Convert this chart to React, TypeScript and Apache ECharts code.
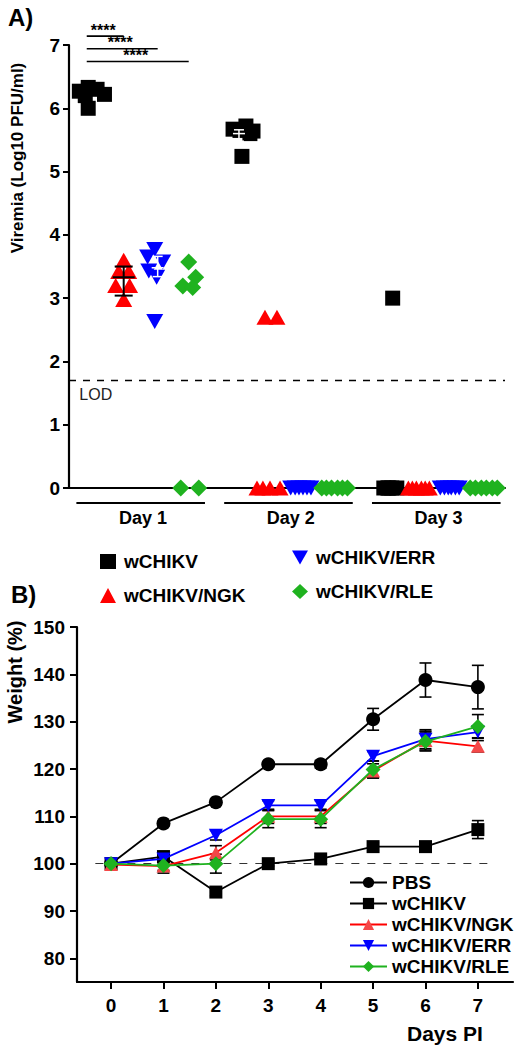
import React, { useEffect, useRef } from "react";
import * as echarts from "echarts";

const FONT = "'Liberation Sans', Arial, Helvetica, sans-serif";

// ---------- Panel A: viremia ----------
const days = [1, 2, 3];
const groupsA = ["wCHIKV", "wCHIKV/NGK", "wCHIKV/ERR", "wCHIKV/RLE"];
const colorsA = ["#000000", "#ff0000", "#0000ff", "#1fb21f"];
const groupOffset = [-0.35, -0.13, 0.1, 0.31];

// values[day][mouse]
const wChikvV = [
  [6.27, 6.33, 6.3, 6.22, 6.0, 6.2],
  [5.67, 5.72, 5.64, 5.24, 5.65, 5.6],
  [3.0, 0, 0, 0, 0, 0],
];
const wChikvJ = [
  [-0.08, -0.02, 0.04, 0.09, -0.02, -0.04],
  [-0.04, 0.047, 0.095, 0.02, 0.007, 0.074],
  [0.04, -0.02, 0.007, 0.034, 0.068, 0.014],
];
const ngkV = [
  [3.6, 3.42, 3.42, 3.2, 3.2, 2.98],
  [2.7, 2.7, 0, 0, 0, 0],
  [0, 0, 0, 0, 0, 0],
];
const ngkJ = [
  [0, -0.034, 0.034, -0.054, 0.04, 0],
  [-0.044, 0.037, -0.098, -0.058, -0.01, 0.058],
  [-0.074, -0.047, -0.02, 0.014, 0.04, 0.068],
];
const errV = [
  [3.77, 3.65, 3.57, 3.43, 3.33, 2.63],
  [0, 0, 0, 0, 0, 0],
  [0, 0, 0, 0, 0, 0],
];
const errJ = [
  [-0.02, -0.068, 0.034, -0.06, -0.007, -0.02],
  [-0.1, -0.07, -0.044, -0.017, 0.01, 0.037],
  [-0.088, -0.06, -0.034, -0.014, 0.014, 0.04],
];
const rleV = [
  [3.57, 3.33, 3.19, 3.17, 0, 0],
  [0, 0, 0, 0, 0, 0],
  [0, 0, 0, 0, 0, 0],
];
const rleJ = [
  [0, 0.047, -0.04, 0.027, -0.054, 0.068],
  [-0.1, -0.068, -0.034, 0.007, 0.04, 0.074],
  [-0.095, -0.06, -0.02, 0.014, 0.054, 0.088],
];
const valuesA = [wChikvV, ngkV, errV, rleV];
const jitterA = [wChikvJ, ngkJ, errJ, rleJ];

// mean +/- SD bars drawn in panel A: [groupIndex, day, mean, low, high]
const meanBarsBlack = [[1, 1, 3.33, 3.04, 3.5]];
const meanBarsWhite = [
  [2, 1, 3.48, 3.34, 3.66],
  [0, 2, 5.6, 5.48, 5.66],
];
const LOD = 1.7;
const sigLevels = [7.14, 6.94, 6.74];
const sigText = "****";

// ---------- Panel B: weight ----------
const daysB = [0, 1, 2, 3, 4, 5, 6, 7];
const pbsW = [100, 108.5, 113, 121, 121, 130.5, 138.8, 137.3];
const pbsE = [0.5, 0.6, 0.6, 0.5, 0.8, 2.3, 3.6, 4.6];
const wChikvW = [100, 101.5, 94, 100, 101, 103.6, 103.6, 107.2];
const wChikvE = [0.5, 0.8, 0.8, 0.5, 0.5, 0.8, 0.8, 1.9];
const ngkW = [99.8, 99.5, 102.3, 110, 110, 119.6, 126, 124.8];
const ngkE = [0.5, 1.5, 1.5, 1.5, 1.5, 1.5, 2, 1.2];
const errW = [100, 101, 106, 112.3, 112.3, 122.7, 126.3, 127.8];
const errE = [0.5, 1, 1, 1, 1, 1, 2, 1.2];
const rleW = [100, 99.6, 100, 109.4, 109.4, 119.9, 125.8, 129];
const rleE = [0.5, 1, 2, 1.8, 1.8, 1.8, 2, 2.5];
const groupsB = ["PBS", "wCHIKV", "wCHIKV/NGK", "wCHIKV/ERR", "wCHIKV/RLE"];
const weightsB = [pbsW, wChikvW, ngkW, errW, rleW];
const errorsB = [pbsE, wChikvE, ngkE, errE, rleE];
const lineColorsB = ["#000000", "#000000", "#ff0000", "#0000ff", "#1fb21f"];
const markColorsB = ["#000000", "#000000", "#f44848", "#0000ff", "#1fb21f"];
const symbolsB = ["circle", "rect", "triangle", "triangle", "diamond"];
const rotB = [0, 0, 0, 180, 0];
const sizesB: any[] = [14, 13, [14, 13], [14, 13], 15];
const yTicksB = [80, 90, 100, 110, 120, 130, 140, 150];

const bold = { fontFamily: FONT, fontWeight: "bold", color: "#000" };
const DOWN_TRI = "path://M0,0L16,0L8,14Z";

function errorRender(color: string, lw: number, cap: number, meanW: number) {
  return (params: any, api: any) => {
    const x = api.value(0);
    const m = api.value(1);
    const lo = api.value(2);
    const hi = api.value(3);
    const pm = api.coord([x, m]);
    const pl = api.coord([x, lo]);
    const ph = api.coord([x, hi]);
    const st = { stroke: color, lineWidth: lw };
    const children: any[] = [
      { type: "line", shape: { x1: pl[0], y1: pl[1], x2: ph[0], y2: ph[1] }, style: st },
      { type: "line", shape: { x1: pl[0] - cap, y1: pl[1], x2: pl[0] + cap, y2: pl[1] }, style: st },
      { type: "line", shape: { x1: ph[0] - cap, y1: ph[1], x2: ph[0] + cap, y2: ph[1] }, style: st },
    ];
    if (meanW > 0) {
      children.push({
        type: "line",
        shape: { x1: pm[0] - meanW, y1: pm[1], x2: pm[0] + meanW, y2: pm[1] },
        style: st,
      });
    }
    return { type: "group", children };
  };
}

export default function App() {
  const ref = useRef<HTMLDivElement>(null);
  useEffect(() => {
    if (!ref.current) return;
    const chart = echarts.init(ref.current, null, { renderer: "svg" });

    const scatterSeries = groupsA.map((g, gi) => {
      const data: number[][] = [];
      days.forEach((d, di) => {
        valuesA[gi][di].forEach((v, k) => {
          data.push([d + groupOffset[gi] + jitterA[gi][di][k], v]);
        });
      });
      return {
        name: g,
        type: "scatter",
        xAxisIndex: 0,
        yAxisIndex: 0,
        symbol: gi === 0 ? "rect" : gi === 3 ? "diamond" : "triangle",
        symbolRotate: gi === 2 ? 180 : 0,
        symbolSize: gi === 0 ? 15 : gi === 3 ? 17 : [17, 15],
        itemStyle: { color: colorsA[gi], opacity: 1 },
        data,
        z: 3,
        markLine:
          gi === 0
            ? {
                silent: true,
                symbol: "none",
                label: { show: false },
                lineStyle: { color: "#000", type: [7, 7], width: 1.3 },
                data: [{ yAxis: LOD }],
              }
            : undefined,
      };
    });

    const toBar = (b: number[]) => [days[b[1] - 1] + groupOffset[b[0]], b[2], b[3], b[4]];

    const lineSeries = groupsB.map((g, gi) => ({
      name: "B:" + g,
      type: "line",
      xAxisIndex: 1,
      yAxisIndex: 1,
      symbol: symbolsB[gi],
      symbolRotate: rotB[gi],
      symbolSize: sizesB[gi],
      showSymbol: true,
      lineStyle: { color: lineColorsB[gi], width: 1.8 },
      itemStyle: { color: markColorsB[gi], opacity: 1 },
      data: daysB.map((d, i) => [d, weightsB[gi][i]]),
      z: 4 + gi,
      markLine:
        gi === 0
          ? {
              silent: true,
              symbol: "none",
              label: { show: false },
              lineStyle: { color: "#333", type: [8, 8], width: 1.1 },
              data: [[{ coord: [-0.3, 100] }, { coord: [7.3, 100] }]],
            }
          : undefined,
    }));

    const errDataB: number[][] = [];
    groupsB.forEach((g, gi) => {
      daysB.forEach((d, i) => {
        const v = weightsB[gi][i];
        const e = errorsB[gi][i];
        errDataB.push([d, v, v - e, v + e]);
      });
    });

    const legendA = (names: string[], left: number, top: number) => ({
      data: names.map((n) => (n === "wCHIKV/ERR" ? { name: n, icon: DOWN_TRI } : { name: n })),
      orient: "vertical",
      left,
      top,
      itemWidth: 16,
      itemHeight: 15,
      itemGap: 15,
      selectedMode: false,
      textStyle: { fontSize: 19, padding: [0, 0, 0, 3], ...bold },
    });

    const option: any = {
      animation: false,
      backgroundColor: "#fff",
      textStyle: { fontFamily: FONT },
      grid: [
        { left: 69, top: 45, width: 436, height: 443 },
        { left: 77, top: 627, width: 436, height: 355 },
      ],
      xAxis: [
        {
          type: "value",
          gridIndex: 0,
          min: 0.5,
          max: 3.45,
          splitLine: { show: false },
          axisLine: { lineStyle: { color: "#000", width: 2.2 } },
          axisTick: { show: false },
          axisLabel: {
            customValues: days,
            formatter: (v: number) => "Day " + v,
            margin: 21,
            fontSize: 18,
            ...bold,
          },
        },
        {
          type: "value",
          gridIndex: 1,
          min: -0.65,
          max: 7.67,
          splitLine: { show: false },
          axisLine: { onZero: false, lineStyle: { color: "#000", width: 2.2 } },
          axisTick: { customValues: daysB, length: 7, lineStyle: { color: "#000", width: 2 } },
          axisLabel: { customValues: daysB, margin: 14, fontSize: 19, ...bold },
        },
      ],
      yAxis: [
        {
          type: "value",
          gridIndex: 0,
          min: 0,
          max: 7,
          interval: 1,
          splitLine: { show: false },
          axisLine: { onZero: false, lineStyle: { color: "#000", width: 2.2 } },
          axisTick: { length: 6, lineStyle: { color: "#000", width: 2 } },
          axisLabel: { margin: 9, fontSize: 19, ...bold },
        },
        {
          type: "value",
          gridIndex: 1,
          min: 75,
          max: 150,
          splitLine: { show: false },
          axisLine: { onZero: false, lineStyle: { color: "#000", width: 2.2 } },
          axisTick: { customValues: yTicksB, length: 7, lineStyle: { color: "#000", width: 2 } },
          axisLabel: { customValues: yTicksB, margin: 12, fontSize: 19, ...bold },
        },
      ],
      legend: [
        legendA([groupsA[0], groupsA[1]], 95, 547),
        legendA([groupsA[2], groupsA[3]], 287, 543),
        {
          data: groupsB.map((g) => "B:" + g),
          orient: "vertical",
          left: 344,
          top: 868,
          itemWidth: 37,
          itemHeight: 14,
          itemGap: 2,
          selectedMode: false,
          formatter: (n: string) => n.replace(/^B:/, ""),
          textStyle: { fontSize: 19, ...bold },
        },
      ],
      series: [
        ...scatterSeries,
        {
          type: "custom",
          xAxisIndex: 0,
          yAxisIndex: 0,
          z: 4,
          silent: true,
          renderItem: errorRender("#000", 2, 9, 11),
          data: meanBarsBlack.map(toBar),
        },
        {
          type: "custom",
          xAxisIndex: 0,
          yAxisIndex: 0,
          z: 5,
          silent: true,
          renderItem: errorRender("#fff", 1.5, 5, 6),
          data: meanBarsWhite.map(toBar),
        },
        {
          type: "custom",
          xAxisIndex: 1,
          yAxisIndex: 1,
          z: 2,
          silent: true,
          renderItem: errorRender("#000", 1.6, 6, 0),
          data: errDataB,
        },
        ...lineSeries,
      ],
    };
    chart.setOption(option);

    const pA = (x: number, y: number) =>
      chart.convertToPixel({ xAxisIndex: 0, yAxisIndex: 0 } as any, [x, y]) as number[];
    const pB = (x: number, y: number) =>
      chart.convertToPixel({ xAxisIndex: 1, yAxisIndex: 1 } as any, [x, y]) as number[];

    const graphics: any[] = [];
    const txt = (text: string, x: number, y: number, size: number, extra: any = {}) => ({
      type: "text",
      x,
      y,
      rotation: extra.rotation || 0,
      style: {
        text,
        fontSize: size,
        fontWeight: extra.weight || "bold",
        fontFamily: FONT,
        fill: extra.fill || "#000",
        align: extra.align || "left",
        verticalAlign: extra.va || "middle",
      },
      z: 10,
    });
    const ln = (x1: number, y1: number, x2: number, y2: number, w = 2) => ({
      type: "line",
      shape: { x1, y1, x2, y2 },
      style: { stroke: "#000", lineWidth: w },
      z: 10,
    });

    graphics.push(txt("A)", 8, 17, 24));
    graphics.push(txt("B)", 11, 594, 24));
    graphics.push(
      txt("Viremia (Log10 PFU/ml)", 17, 158, 17, { rotation: Math.PI / 2, align: "center" })
    );
    graphics.push(txt("Weight (%)", 15, 672, 20, { rotation: Math.PI / 2, align: "center" }));

    // significance bars
    sigLevels.forEach((lv, i) => {
      const a = pA(days[0] + groupOffset[0] - 0.03, lv);
      const b = pA(days[0] + groupOffset[i + 1], lv);
      graphics.push(ln(a[0], a[1], b[0], b[1], 1.6));
      graphics.push(txt(sigText, (a[0] + b[0]) / 2 - 2, a[1] - 6, 16, { align: "center" }));
    });

    // day underlines
    days.forEach((d) => {
      const a = pA(d - 0.45, 0);
      const b = pA(d + 0.42, 0);
      graphics.push(ln(a[0], a[1] + 15, b[0], b[1] + 15, 2));
    });

    // LOD label
    const lod = pA(0.57, LOD);
    graphics.push(txt("LOD", lod[0], lod[1] + 14, 16, { weight: "normal", fill: "#222" }));

    // Days PI
    const dp = pB(daysB[daysB.length - 1], 75);
    graphics.push(txt("Days PI", dp[0] + 5, dp[1] + 51, 21, { align: "right" }));

    chart.setOption({ graphic: graphics });

    return () => chart.dispose();
  }, []);

  return (
    <div
      ref={ref}
      style={{ position: "absolute", left: 0, top: 0, width: 530, height: 1050, background: "#fff" }}
    />
  );
}
